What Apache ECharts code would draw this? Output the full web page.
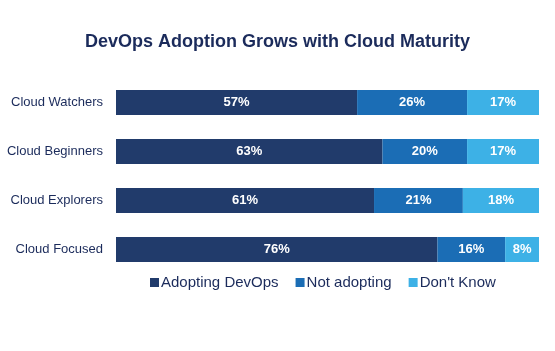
<!DOCTYPE html>
<html>
<head>
<meta charset="utf-8">
<script src="https://cdn.jsdelivr.net/npm/echarts@6/dist/echarts.min.js"></script>
<style>
  html, body { margin: 0; padding: 0; background: #fff; }
  #chart { width: 555px; height: 351px; }
</style>
</head>
<body>
<div id="chart"></div>
<script>
const categories = ["Cloud Watchers", "Cloud Beginners", "Cloud Explorers", "Cloud Focused"];
const seriesNames = ["Adopting DevOps", "Not adopting", "Don't Know"];
const adopting = [57, 63, 61, 76];
const notAdopting = [26, 20, 21, 16];
const dontKnow = [17, 17, 18, 8];

const colors = ["#213b6b", "#1b6db5", "#3db1e6"];
const font = "'Liberation Sans', Arial, sans-serif";

const values = [adopting, notAdopting, dontKnow];

const series = seriesNames.map((name, i) => ({
  type: "bar",
  name: name,
  stack: "total",
  data: values[i],
  barWidth: 25,
  itemStyle: { color: colors[i] },
  label: {
    show: true,
    position: "inside",
    formatter: "{c}%",
    color: "#fff",
    fontSize: 13,
    fontWeight: "bold",
    fontFamily: font
  }
}));

const option = {
  animation: false,
  title: {
    text: "DevOps Adoption Grows with Cloud Maturity",
    left: "center",
    top: 28,
    textStyle: { color: "#1b2b5b", fontSize: 18, fontWeight: "bold", fontFamily: font }
  },
  legend: {
    data: seriesNames,
    top: 270,
    left: 145,
    icon: "rect",
    itemWidth: 9,
    itemHeight: 9,
    itemGap: 17,
    textStyle: { color: "#1b2b5b", fontSize: 15, fontFamily: font, padding: [0, 0, 0, -3] }
  },
  grid: { left: 116, right: 16, top: 78, height: 196 },
  xAxis: { type: "value", min: 0, max: 100, show: false },
  yAxis: {
    type: "category",
    data: categories,
    inverse: true,
    axisLine: { show: false },
    axisTick: { show: false },
    axisLabel: { color: "#1b2b5b", fontSize: 13, fontFamily: font, margin: 13 }
  },
  series
};

const chart = echarts.init(document.getElementById("chart"));
chart.setOption(option);
</script>
</body>
</html>
